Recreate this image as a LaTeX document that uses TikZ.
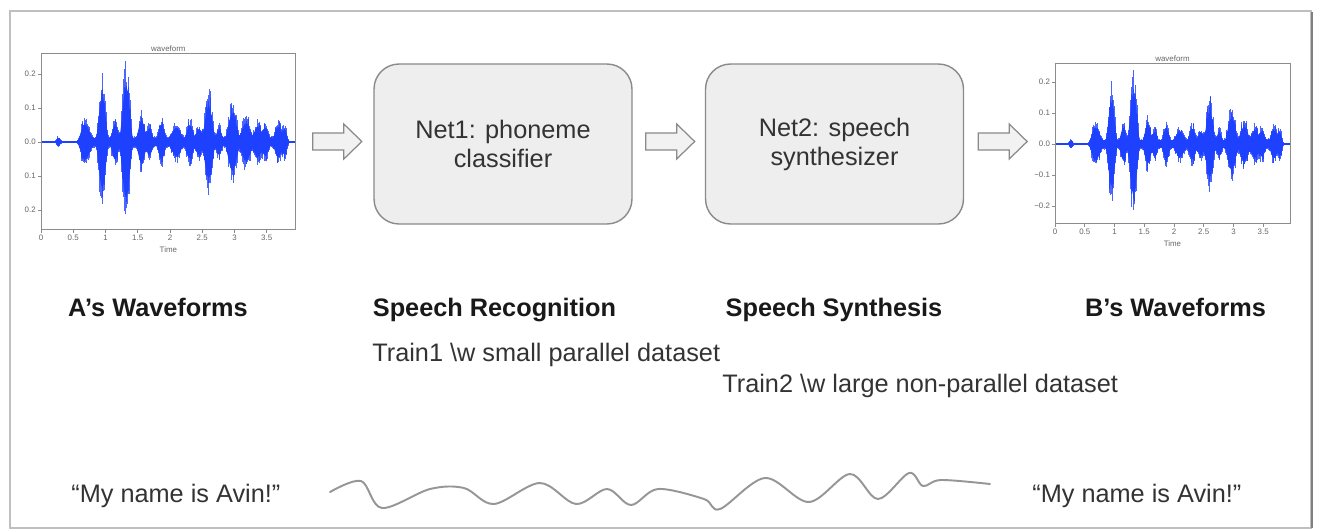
\documentclass[tikz,border=0pt]{standalone}
\usepackage{fontspec}
\setmainfont{Liberation Sans}
\usetikzlibrary{calc}
\definecolor{waveblue}{RGB}{30,64,255}
\definecolor{boxfill}{RGB}{238,238,238}
\definecolor{boxline}{RGB}{138,138,138}
\definecolor{arrowfill}{RGB}{242,242,242}
\definecolor{textgray}{RGB}{51,51,51}
\definecolor{squigglegray}{RGB}{150,150,150}

\tikzset{
  netbox/.style={draw=boxline, fill=boxfill, line width=0.8pt, rounded corners=0.5cm,
    minimum width=5.16cm, minimum height=3.2cm, align=center, text=textgray,
    font=\fontsize{14.4}{16.5}\selectfont},
  steplabel/.style={font=\fontsize{14.4}{16.5}\selectfont\bfseries, text=black!90, anchor=base, inner sep=0pt},
  note/.style={font=\fontsize{14.4}{16.5}\selectfont, text=textgray, anchor=base west, inner sep=0pt},
  ticklabel/.style={font=\fontsize{4.5}{5}\selectfont, text=black!60, inner sep=1pt},
  axisline/.style={draw=black!45, line width=0.35pt},
  wavestroke/.style={draw=waveblue, line width=0.5pt, opacity=0.8},
  blockarrow/.pic={\draw[draw=boxline, fill=arrowfill, line width=0.7pt, line join=miter]
    (-24.5,-8.5) -- (6.5,-8.5) -- (6.5,-17.5) -- (24.5,0) -- (6.5,17.5) -- (6.5,8.5) -- (-24.5,8.5) -- cycle;}
}

% one waveform panel in local units (seconds / amplitude)
\newcommand{\waveplot}[2]{%
  \pgfmathsetseed{42}
  \fill[waveblue] plot[domain=0:3.9, samples=300] (\x,{0.72*env(\x)})
    -- plot[domain=3.9:0, samples=300] (\x,{-0.72*env(\x)}) -- cycle;
  \foreach \i in {0,...,390}{
    \pgfmathsetmacro\amp{env(\i/100)}
    \draw[wavestroke] (\i/100,{-\amp*(0.65+0.45*rnd)}) -- (\i/100,{\amp*(0.65+0.45*rnd)});
  }
  \draw[waveblue, line width=0.6pt] (0,0) -- (3.95,0);
  \draw[axisline] (0,-0.256) rectangle (3.95,0.26);
  \foreach \v/\l [count=\k] in {0.2/0.2, 0.1/0.1, 0/0.0, -0.1/#20.1, -0.2/#20.2}
    \draw[axisline] (0,\v) -- (-0.05,\v) node[ticklabel, left] (#1y\k) {\l};
  \foreach \v [count=\k] in {0,0.5,1,1.5,2,2.5,3,3.5}
    \draw[axisline] (\v,-0.256) -- (\v,-0.268) node[ticklabel, below] (#1x\k) {\v};
  \node[ticklabel, below=9pt] (#1time) at (1.975,-0.256) {Time};
  \node[ticklabel, above] (#1title) at (1.975,0.26) {waveform};
}

\begin{document}
\begin{tikzpicture}[x=0.02cm, y=-0.02cm,
  declare function={
    bump(\ta,\ce,\wi)=(max(0,1-(min(abs(\ta-\ce)/\wi,1.5))^2))^2;
    plateau(\ta)=0.014*min(1,max(0,(\ta-0.6)/0.05))*min(1,max(0,(3.85-\ta)/0.05));
    env(\ta)=0.003+plateau(\ta)+0.014*bump(\ta,0.27,0.05)+0.055*bump(\ta,0.68,0.13)
      +0.17*bump(\ta,0.95,0.1)+0.055*bump(\ta,1.15,0.08)+0.21*bump(\ta,1.32,0.11)
      +0.07*bump(\ta,1.56,0.09)+0.04*bump(\ta,1.68,0.07)+0.055*bump(\ta,1.87,0.08)
      +0.04*bump(\ta,2.1,0.12)+0.05*bump(\ta,2.31,0.09)+0.035*bump(\ta,2.45,0.08)
      +0.13*bump(\ta,2.6,0.11)+0.035*bump(\ta,2.76,0.07)+0.1*bump(\ta,2.97,0.12)
      +0.06*bump(\ta,3.18,0.12)+0.045*bump(\ta,3.36,0.1)+0.04*bump(\ta,3.48,0.08)
      +0.045*bump(\ta,3.68,0.09)+0.035*bump(\ta,3.78,0.06);
  }]
\fill[white] (0,0) rectangle (1319,531);
\useasboundingbox (0,0) rectangle (1319,531);
\draw[black!25, line width=0.8pt] (10,11) rectangle (1311,528);
\draw[black!50, line width=1.6pt] (1312,12) -- (1312,528);

% waveform panels
\begin{scope}[shift={(41,142)}, x=1.29cm, y=6.8cm]
  \waveplot{wa}{}
\end{scope}
\begin{scope}[shift={(1055,144)}, x=1.19cm, y=6.2cm]
  \waveplot{wb}{−}
\end{scope}

% networks
\node[netbox] (net1) at (503,144) {Net1: phoneme\\classifier};
\node[netbox] (net2) at (834.5,144) {Net2: speech\\synthesizer};

\pic at ($(net1.west)+(-36,-2.5)$) {blockarrow};
\pic at ($(net1.east)+(37.5,-2.5)$) {blockarrow};
\pic at ($(net2.east)+(38.5,-2.5)$) {blockarrow};

% captions
\node[steplabel] (capA) at (158,316) {A’s Waveforms};
\node[steplabel] (capRec) at (494.5,316) {Speech Recognition};
\node[steplabel] (capSyn) at (834,316) {Speech Synthesis};
\node[steplabel] (capB) at (1175.5,316) {B’s Waveforms};

\node[note] (train1) at (372,361) {Train1 \textbackslash w small parallel dataset};
\node[note] (train2) at (722,392) {Train2 \textbackslash w large non-parallel dataset};

% spoken sentence
\node[note] (sayA) at (71,502) {“My name is Avin!”};
\node[note] (sayB) at (1032,502) {“My name is Avin!”};
\draw[squigglegray, line width=1.1pt, line cap=round] plot[smooth, tension=0.55] coordinates {
  (330,492) (361,481) (382,508) (430,489) (464,488) (494,504) (540,483) (576,504)
  (607,489) (631,505) (658,489) (704,499) (720,509) (765,478) (809,502) (850,474)
  (878,499) (909,473) (923,486) (941,480) (990,484)};
\end{tikzpicture}
\end{document}
